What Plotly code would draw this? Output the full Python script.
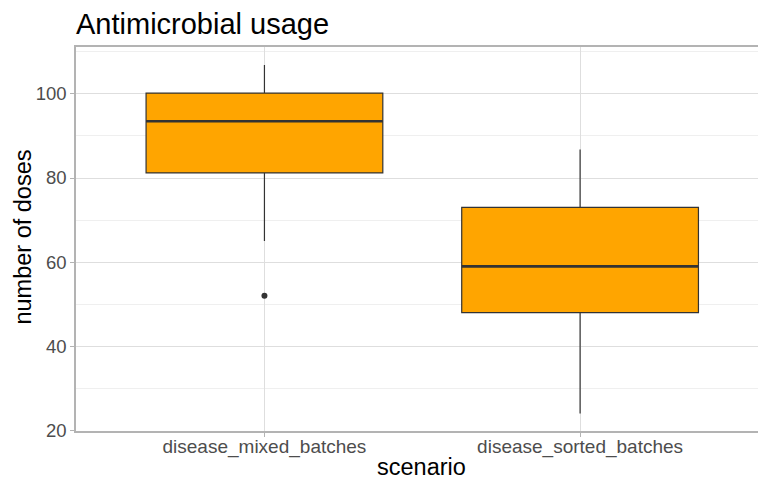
import plotly.graph_objects as go

scenarios = ["disease_mixed_batches", "disease_sorted_batches"]
q1 = [81.2, 48.0]
median = [93.5, 59.0]
q3 = [100.2, 73.0]
lower_whisker = [65.0, 24.0]
upper_whisker = [106.9, 86.8]
outlier_x = ["disease_mixed_batches"]
outlier_y = [52.0]
y_ticks = [20, 40, 60, 80, 100]

BOX_W = 0.75
FONT = "Liberation Sans"
xpos = list(range(len(scenarios)))

fig = go.Figure()
fig.add_trace(go.Box(
    x=xpos, q1=q1, median=median, q3=q3,
    lowerfence=lower_whisker, upperfence=upper_whisker,
    width=BOX_W, whiskerwidth=0,
    fillcolor="#FFA500", line=dict(color="#333333", width=1.2),
    boxpoints=False, showlegend=False, hoverinfo="skip",
))
# thicker median line (ggplot fatten)
for i, m in enumerate(median):
    fig.add_trace(go.Scatter(
        x=[xpos[i] - BOX_W / 2, xpos[i] + BOX_W / 2], y=[m, m],
        mode="lines", line=dict(color="#333333", width=2.6),
        showlegend=False, hoverinfo="skip",
    ))
fig.add_trace(go.Scatter(
    x=[scenarios.index(s) for s in outlier_x], y=outlier_y,
    mode="markers", marker=dict(color="#333333", size=6),
    showlegend=False, hoverinfo="skip",
))

axis_common = dict(
    showline=True, linecolor="#b3b3b3", linewidth=1.5, mirror=True,
    ticks="outside", ticklen=4, tickcolor="#b3b3b3", tickwidth=1,
    gridcolor="#dedede", gridwidth=1, zeroline=False, automargin=False,
)

fig.update_layout(
    width=766, height=479,
    margin=dict(l=68, r=8, t=39, b=56),
    paper_bgcolor="white", plot_bgcolor="white",
    title=dict(text="Antimicrobial usage", x=68 / 766, xref="container", xanchor="left",
               y=1 - 16 / 479, yref="container", yanchor="middle",
               font=dict(family=FONT, size=29, color="black")),
    xaxis=dict(
        **axis_common,
        tickfont=dict(family=FONT, size=19, color="#4d4d4d"),
        ticklabelstandoff=-7,
        tickmode="array", tickvals=xpos, ticktext=scenarios,
        range=[-0.597, 0.589 + 1],
    ),
    yaxis=dict(
        **axis_common,
        tickfont=dict(family=FONT, size=18.5, color="#4d4d4d"),
        tickmode="array", tickvals=y_ticks,
        range=[19.85, 111.15],
        minor=dict(tickmode="array", tickvals=[30, 50, 70, 90, 110], showgrid=True,
                   gridcolor="#efefef", gridwidth=0.6, ticks=""),
    ),
    annotations=[
        dict(text="scenario", xref="paper", yref="paper", x=0.5, y=-0.1328,
             xanchor="center", yanchor="bottom", showarrow=False,
             font=dict(family=FONT, size=23.5, color="black")),
        dict(text="number of doses", xref="paper", yref="paper", x=-0.0761, y=0.505,
             xanchor="center", yanchor="middle", textangle=-90, showarrow=False,
             font=dict(family=FONT, size=23.5, color="black")),
    ],
)

fig.write_html("out.html")
